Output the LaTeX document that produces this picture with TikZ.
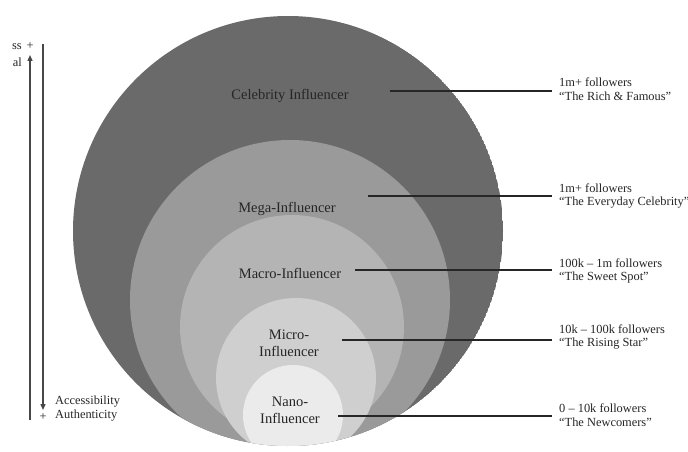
\documentclass[tikz,border=0pt]{standalone}
\usepackage{fontspec}
\setmainfont{Liberation Serif}
\usetikzlibrary{arrows.meta}
\definecolor{cCel}{HTML}{6A6A6A}
\definecolor{cMega}{HTML}{9A9A9A}
\definecolor{cMacro}{HTML}{B4B4B4}
\definecolor{cMicro}{HTML}{CFCFCF}
\definecolor{cNano}{HTML}{EBEBEB}
\definecolor{ink}{HTML}{262626}
\begin{document}
\begin{tikzpicture}[x=1pt,y=-1pt,
  lab/.style={font=\fontsize{14.5}{17}\selectfont, text=ink, align=center, inner sep=0pt},
  side/.style={font=\fontsize{12.4}{13.5}\selectfont, text=ink, align=left, inner sep=0pt, anchor=west},
  leader/.style={draw=ink, line width=1.2pt, shorten >=7pt},
  axis/.style={draw=ink!85, line width=1.4pt},
  tip/.style={-{Triangle[length=6pt,width=5pt]}}
]
\useasboundingbox (0,0) rectangle (688,452);
\fill[white] (0,0) rectangle (688,452);
% circles
\begin{scope}
  \clip (288,231) circle [radius=215pt];
  \fill[cCel] (288,231) circle [radius=215pt];
  \fill[cMega] (290,300) circle [radius=160pt];
  \fill[cMacro] (292,327) circle [radius=112pt];
  \fill[cMicro] (296,378) circle [radius=80pt];
  \fill[cNano] (293,415) circle [radius=50pt];
\end{scope}
% labels
\node[lab] (cel) at (290,96) {Celebrity Influencer};
\node[lab] (mega) at (287,209) {Mega-Influencer};
\node[lab] (macro) at (290,273) {Macro-Influencer};
\node[lab] (micro) at (289,343) {Micro-\\Influencer};
\node[lab] (nano) at (290,410) {Nano-\\Influencer};
% side texts
\node[side] (t1) at (559,89) {1m+ followers\\“The Rich \& Famous”};
\node[side] (t2) at (559,196) {1m+ followers\\“The Everyday Celebrity”};
\node[side] (t3) at (559,271) {100k – 1m followers\\“The Sweet Spot”};
\node[side] (t4) at (559,337) {10k – 100k followers\\“The Rising Star”};
\node[side] (t5) at (559,415) {0 – 10k followers\\“The Newcomers”};
% leader starts
\coordinate (s1) at (390,91);
\coordinate (s2) at (368,196);
\coordinate (s3) at (355,270);
\coordinate (s4) at (342,340);
\coordinate (s5) at (338,416);
\draw[leader] (s1) -- (s1 -| t1.west);
\draw[leader] (s2) -- (s2 -| t2.west);
\draw[leader] (s3) -- (s3 -| t3.west);
\draw[leader] (s4) -- (s4 -| t4.west);
\draw[leader] (s5) -- (s5 -| t5.west);
% left axes
\coordinate (a1b) at (30,420);
\coordinate (a1t) at (30,55);
\coordinate (a2t) at (43,44);
\coordinate (a2b) at (43,410);
\draw[axis,tip] (a1b) -- (a1t);
\draw[axis,tip] (a2t) -- (a2b);
\node[side, anchor=east] (topt) at (22,47) {ss};
\node[side, anchor=east] (topt2) at (22,62) {al};
\node[side, anchor=center] (p1) at (30,46) {+};
\node[side, anchor=center] (p2) at (43,417) {+};
\node[side] (acc) at (55,402) {Accessibility};
\node[side] (aut) at (55,416) {Authenticity};
\end{tikzpicture}
\end{document}
